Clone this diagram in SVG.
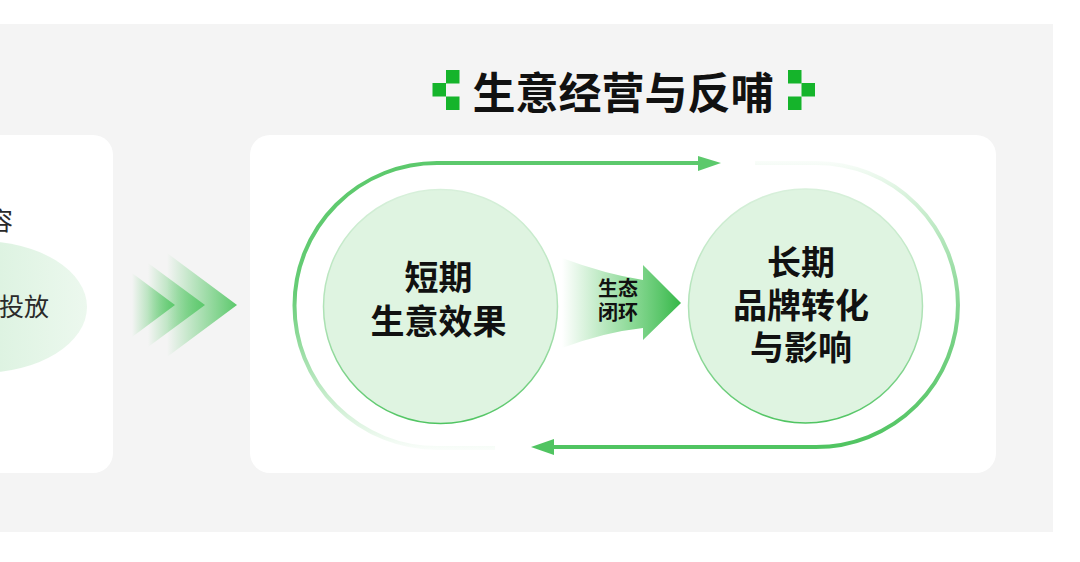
<svg xmlns="http://www.w3.org/2000/svg" width="1080" height="562" viewBox="0 0 1080 562">
  <defs>
    <style>
      .cjk { font-family: "Noto Sans CJK SC", "Noto Sans", sans-serif; }
      .title { font-size: 43px; font-weight: 700; fill: #111; }
      .big { font-size: 34px; font-weight: 700; fill: #111; text-anchor: middle; }
      .small { font-size: 20px; font-weight: 700; fill: #111; text-anchor: middle; }
      .left { font-size: 25px; font-weight: 400; fill: #2a2a2a; }
      .card { fill: #ffffff; }
      .deco { fill: #15b42b; }
      .node { fill: #dff4e1; stroke: url(#circStroke); stroke-width: 1.5; }
    </style>
    <linearGradient id="circStroke" x1="0" y1="0" x2="0" y2="1">
      <stop offset="0" stop-color="#d8f0db"/>
      <stop offset="0.6" stop-color="#a8e0b0"/>
      <stop offset="1" stop-color="#4fc461"/>
    </linearGradient>
    <linearGradient id="chev" x1="0" y1="0" x2="1" y2="0">
      <stop offset="0" stop-color="#5cc96c" stop-opacity="0"/>
      <stop offset="1" stop-color="#5cc96c" stop-opacity="1"/>
    </linearGradient>
    <linearGradient id="midArrow" gradientUnits="userSpaceOnUse" x1="562" y1="0" x2="680" y2="0">
      <stop offset="0" stop-color="#6fd07c" stop-opacity="0"/>
      <stop offset="0.55" stop-color="#6fd07c" stop-opacity="0.75"/>
      <stop offset="1" stop-color="#36b849"/>
    </linearGradient>
    <linearGradient id="ellipseFill" x1="0" y1="0" x2="1" y2="0">
      <stop offset="0" stop-color="#c9ecd0"/>
      <stop offset="1" stop-color="#ecf8ee"/>
    </linearGradient>
    <linearGradient id="loopLeft" gradientUnits="userSpaceOnUse" x1="0" y1="163" x2="0" y2="450">
      <stop offset="0" stop-color="#5cc96c"/>
      <stop offset="0.45" stop-color="#66cc75"/>
      <stop offset="1" stop-color="#5cc96c" stop-opacity="0.03"/>
    </linearGradient>
    <linearGradient id="loopRight" gradientUnits="userSpaceOnUse" x1="0" y1="447" x2="0" y2="160">
      <stop offset="0" stop-color="#50c461"/>
      <stop offset="0.45" stop-color="#7fd48c"/>
      <stop offset="1" stop-color="#5cc96c" stop-opacity="0.03"/>
    </linearGradient>
  </defs>

  <rect x="0" y="24" width="1053" height="508" fill="#f4f4f4"/>

  <g id="left-card">
    <rect class="card" x="-30" y="135" width="143" height="338" rx="20"/>
    <ellipse cx="-20" cy="307" rx="107" ry="66" fill="url(#ellipseFill)"/>
    <text class="cjk left" x="13" y="230" text-anchor="end">容</text>
    <text class="cjk left" x="-1" y="316">投放</text>
  </g>

  <g id="chevrons">
    <polygon points="167,253 237,305 167,357" fill="url(#chev)"/>
    <polygon points="148,263 205,305 148,347" fill="url(#chev)"/>
    <polygon points="132,273 175,305 132,337" fill="url(#chev)"/>
  </g>

  <g id="title">
    <rect class="deco" x="446" y="70" width="13.5" height="13.5"/>
    <rect class="deco" x="432.5" y="83" width="13.5" height="13.5"/>
    <rect class="deco" x="446" y="96.5" width="13.5" height="13.5"/>
    <text class="cjk title" x="623" y="109" text-anchor="middle">生意经营与反哺</text>
    <rect class="deco" x="788" y="70" width="13.5" height="13.5"/>
    <rect class="deco" x="801.5" y="83" width="13.5" height="13.5"/>
    <rect class="deco" x="788" y="96.5" width="13.5" height="13.5"/>
  </g>

  <g id="right-card">
    <rect class="card" x="250" y="135" width="746" height="338" rx="20"/>
  </g>

  <g id="connectors">
    <path d="M700,163 L437,163 A142.5,142.5 0 0 0 437,448 L495,448" fill="none" stroke="url(#loopLeft)" stroke-width="4"/>
    <polygon points="698,156 721,163 698,171" fill="#5cc96c"/>
    <path d="M552,447 L816,447 A142,142 0 0 0 816,163 L755,163" fill="none" stroke="url(#loopRight)" stroke-width="4"/>
    <polygon points="554,439 531,447 554,455" fill="#50c461"/>
    <path d="M562,258 Q605,274 643,280 L643,265 L681,303 L643,340 L643,328 Q605,332 562,348 Z" fill="url(#midArrow)"/>
    <text class="cjk small" x="618" y="296">生态</text>
    <text class="cjk small" x="618" y="320">闭环</text>
  </g>

  <g id="node-short">
    <circle class="node" cx="440.5" cy="306.5" r="117"/>
    <text class="cjk big" x="438.5" y="290">短期</text>
    <text class="cjk big" x="438.5" y="334">生意效果</text>
  </g>

  <g id="node-long">
    <circle class="node" cx="805.5" cy="306" r="117"/>
    <text class="cjk big" x="801" y="275">长期</text>
    <text class="cjk big" x="801" y="318">品牌转化</text>
    <text class="cjk big" x="801" y="360">与影响</text>
  </g>
</svg>
